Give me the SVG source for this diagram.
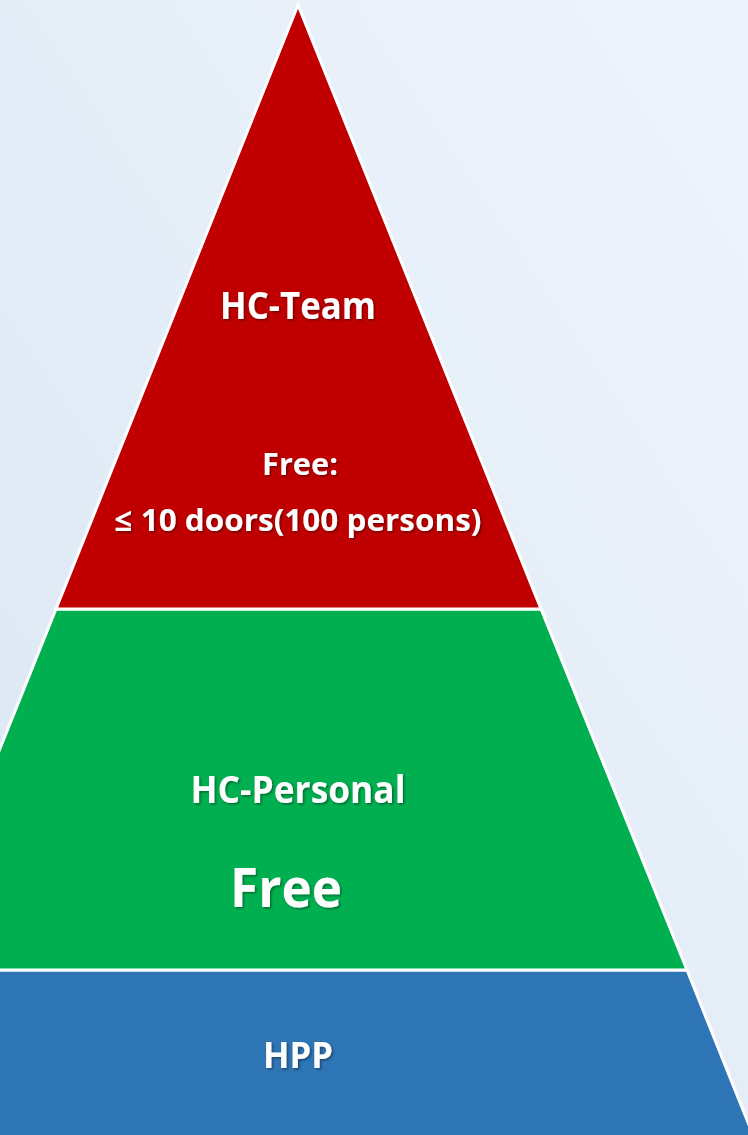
<svg xmlns="http://www.w3.org/2000/svg" width="748" height="1135" viewBox="0 0 748 1135">
<defs>
<linearGradient id="bg" x1="1" y1="0" x2="0" y2="1">
<stop offset="0" stop-color="#eef4fb"/>
<stop offset="1" stop-color="#dbe7f4"/>
</linearGradient>
<filter id="sh" x="-10%" y="-20%" width="120%" height="150%">
<feDropShadow dx="1.5" dy="1.5" stdDeviation="1" flood-color="#000" flood-opacity="0.4"/>
</filter>
</defs>
<style>
.seg{stroke:#fff;stroke-width:3;stroke-linejoin:miter}
.t{font-family:"Open Sans","Liberation Sans",sans-serif;font-weight:bold;fill:#fff;text-anchor:middle;filter:url(#sh)}
</style>
<rect width="748" height="1135" fill="url(#bg)"/>
<g id="hpp">
<polygon class="seg" fill="#2E75B6" points="-89,970 687,970 755,1140 -160,1140"/>
<text class="t" x="298" y="1068" font-size="36" textLength="70" lengthAdjust="spacingAndGlyphs">HPP</text>
</g>
<g id="hc-personal">
<polygon class="seg" fill="#00B050" points="56,609 541,609 687,970 -89,970"/>
<text class="t" x="298" y="803" font-size="38" textLength="215" lengthAdjust="spacingAndGlyphs">HC-Personal</text>
<text class="t" x="286" y="907" font-size="54" textLength="112" lengthAdjust="spacingAndGlyphs">Free</text>
</g>
<g id="hc-team">
<polygon class="seg" fill="#C00000" points="298,5 541,609 56,609"/>
<text class="t" x="298" y="319" font-size="38" textLength="156" lengthAdjust="spacingAndGlyphs">HC-Team</text>
<text class="t" x="300" y="475" font-size="31" textLength="76" lengthAdjust="spacingAndGlyphs">Free:</text>
<text class="t" x="298" y="531" font-size="31" textLength="367" lengthAdjust="spacingAndGlyphs">≤ 10 doors(100 persons)</text>
</g>
<g id="connectors"/>
</svg>
